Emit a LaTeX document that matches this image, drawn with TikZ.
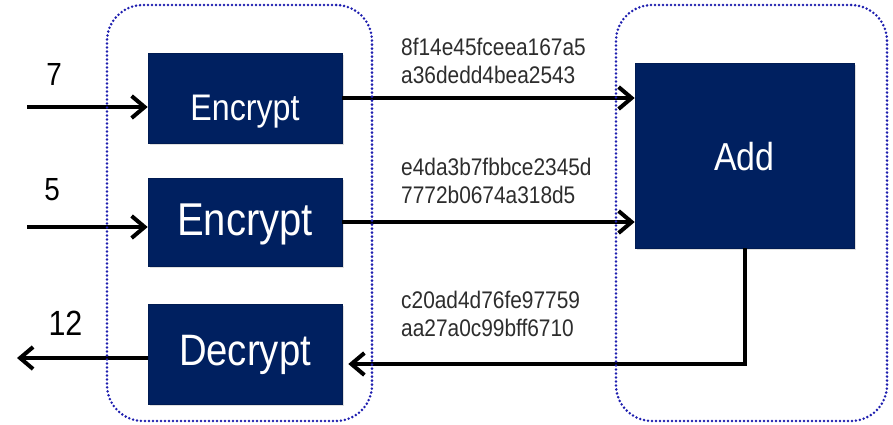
\documentclass[tikz,border=0pt]{standalone}
\usepackage{fontspec}
\setmainfont{Liberation Sans}
\newfontfamily\diagfont[FakeStretch=0.87]{Liberation Sans}
\usetikzlibrary{arrows.meta,shadows}

\definecolor{boxnavy}{RGB}{0,32,96}
\definecolor{groupblue}{RGB}{30,30,175}
\definecolor{hashgray}{RGB}{45,45,45}

\newcommand{\diagsize}[1]{\diagfont\fontsize{#1}{#1}\selectfont}

\begin{document}
\begin{tikzpicture}[x=1pt,y=-1pt,
  opbox/.style={draw=boxnavy!85!black, line width=0.6pt, fill=boxnavy, text=white,
    inner sep=0pt, text depth=0pt,
    drop shadow={shadow xshift=2pt, shadow yshift=-2pt, opacity=0.25}},
  group/.style={draw=groupblue, line width=2.8pt, line cap=round,
    dash pattern=on 0pt off 4pt, rounded corners=36pt, inner sep=0pt},
  flow/.style={line width=4pt, -{Straight Barb[length=13pt,width=22pt]}},
  hash/.style={font=\diagfont\fontsize{24}{28}\selectfont, text=hashgray, align=left,
    anchor=base west, inner sep=0pt},
  num/.style={text=black, inner sep=0pt, anchor=base}
]
% canvas
\fill[white] (0,0) rectangle (893,424);
\useasboundingbox (0,0) rectangle (893,424);

% operation blocks
\node[opbox, minimum width=194pt, minimum height=90pt, text height=44pt, font=\diagsize{37}]
  (enc1) at (245,98) {Encrypt};
\node[opbox, minimum width=194pt, minimum height=88pt, text height=26pt, font=\diagsize{46}]
  (enc2) at (245,222) {Encrypt};
\node[opbox, minimum width=194pt, minimum height=100pt, text height=22pt, font=\diagsize{44}]
  (dec) at (245,354) {Decrypt};
\node[opbox, minimum width=219pt, minimum height=185pt, text height=29pt, font=\diagsize{39}]
  (add) at (744.5,155.5) {Add};

% plain values
\node[num, font=\diagsize{32}] (n7) at (54,85) {7};
\node[num, font=\diagsize{32}] (n5) at (52,200) {5};
\node[num, font=\diagsize{35}] (n12) at (65.5,335) {12};

% ciphertexts (anchored on the baseline of the second line)
\node[hash] (h1) at (401,83) {8f14e45fceea167a5\\a36dedd4bea2543};
\node[hash] (h2) at (401,203) {e4da3b7fbbce2345d\\7772b0674a318d5};
\node[hash] (h3) at (401,336) {c20ad4d76fe97759\\aa27a0c99bff6710};

% free ends of the data flow
\coordinate (in1) at (27,107);
\coordinate (in2) at (27,227);
\coordinate (out) at (17,358);
\coordinate (fb) at (0,364);

% data flow
\draw[flow] (in1) -- (in1 -| enc1.west);
\draw[flow] (in2) -- (in2 -| enc2.west);
\draw[flow] (enc1.east) -- (enc1.east -| add.west);
\draw[flow] (enc2.east) -- (enc2.east -| add.west);
\draw[flow] (add.south) |- ([xshift=6pt]fb -| dec.east);
\draw[flow] (out -| dec.west) -- (out);

% trust boundaries
\node[group, minimum width=265pt, minimum height=416pt] (client) at (239.5,213) {};
\node[group, minimum width=271pt, minimum height=416pt] (server) at (751.5,213) {};
\end{tikzpicture}
\end{document}
